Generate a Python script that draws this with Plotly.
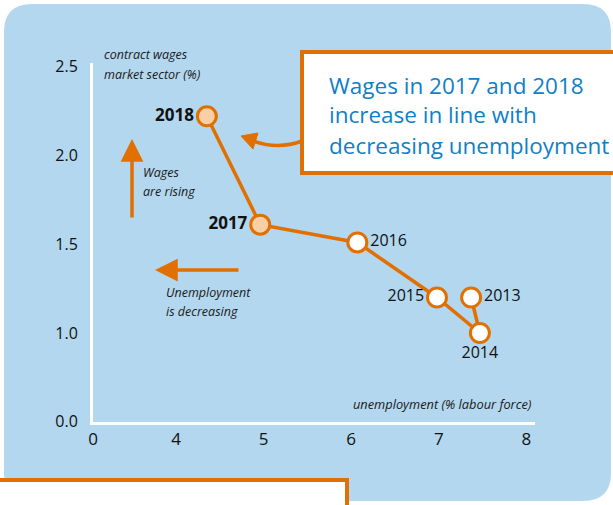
import plotly.graph_objects as go

# ---- data ----
years = ["2013", "2014", "2015", "2016", "2017", "2018"]
unemployment = [7.37, 7.47, 6.98, 6.07, 4.96, 4.35]
wages = [1.20, 1.00, 1.20, 1.51, 1.61, 2.22]
label_pos = ["middle right", "bottom center", "middle left", "middle right", "middle left", "middle left"]
highlight = [False, False, False, False, True, True]

x_tickvals = [3.05, 4, 5, 6, 7, 8]
x_ticktext = ["0", "4", "5", "6", "7", "8"]
y_tickvals = [0.5, 1.0, 1.5, 2.0, 2.5]
y_ticktext = ["0.0", "1.0", "1.5", "2.0", "2.5"]

W, H = 613, 505
ORANGE = "#E17000"
PEACH = "#F9CFA6"
BG = "#B3D7EE"
BLUE = "#0F7FC6"
FONT = "Open Sans"


def X(px):
    return px / W


def Y(py):
    return 1 - py / H


labels = [f"<b>{y}</b>" if h else y for y, h in zip(years, highlight)]
fill = [PEACH if h else "white" for h in highlight]
label_sizes = [17 if h else 16 for h in highlight]

fig = go.Figure()
fig.add_trace(go.Scatter(
    x=unemployment, y=wages, mode="lines+markers+text",
    text=labels, textposition=label_pos,
    textfont=dict(family=FONT, size=label_sizes, color="#111"),
    line=dict(color=ORANGE, width=3.5),
    marker=dict(size=19, color=fill, line=dict(color=ORANGE, width=3)),
    cliponaxis=False, hoverinfo="skip", showlegend=False,
))

# background rounded panel
L, T, R, B, r = 4, 4, 611, 501, 28
bg_path = (f"M {X(L)} {Y(T + r)} Q {X(L)} {Y(T)} {X(L + r)} {Y(T)} "
           f"L {X(R - r)} {Y(T)} Q {X(R)} {Y(T)} {X(R)} {Y(T + r)} "
           f"L {X(R)} {Y(B - r)} Q {X(R)} {Y(B)} {X(R - r)} {Y(B)} "
           f"L {X(L + r)} {Y(B)} Q {X(L)} {Y(B)} {X(L)} {Y(B - r)} Z")

shapes = [
    dict(type="path", path=bg_path, xref="paper", yref="paper",
         fillcolor=BG, line=dict(width=0), layer="below"),
    # callout box
    dict(type="rect", xref="paper", yref="paper", x0=X(302), y0=Y(173), x1=X(625), y1=Y(52),
         fillcolor="white", line=dict(color=ORANGE, width=4), layer="above"),
    # bottom box
    dict(type="rect", xref="paper", yref="paper", x0=X(-5), y0=Y(515), x1=X(347), y1=Y(480),
         fillcolor="white", line=dict(color=ORANGE, width=4), layer="above"),
    # curved arrow from callout
    dict(type="path", xref="paper", yref="paper",
         path=f"M {X(302)} {Y(141)} Q {X(278)} {Y(150)} {X(253)} {Y(141)}",
         line=dict(color=ORANGE, width=3.5), layer="above"),
    dict(type="path", xref="paper", yref="paper",
         path=f"M {X(241)} {Y(136)} L {X(258)} {Y(133)} L {X(253)} {Y(149)} Z",
         fillcolor=ORANGE, line=dict(color=ORANGE, width=1), layer="above"),
]

def txt(s, px, py, size=13, italic=True, color="#1a1a1a", xanchor="left"):
    return dict(text=s, x=X(px), y=Y(py), xref="paper", yref="paper",
                xanchor=xanchor, yanchor="middle", showarrow=False,
                font=dict(family=FONT, size=size, color=color,
                          style="italic" if italic else "normal"))

annotations = [
    txt("contract wages", 102, 55, 12.5),
    txt("market sector (%)", 102, 74, 12.5),
    txt("Wages", 141, 172, 12.5),
    txt("are rising", 141, 191, 12.5),
    txt("Unemployment", 164, 292, 12.5),
    txt("is decreasing", 164, 311, 12.5),
    txt("unemployment (% labour force)", 534, 404, 12.8, xanchor="right"),
    txt("Wages in 2017 and 2018", 327, 85, 22.5, italic=False, color=BLUE),
    txt("increase in line with", 327, 115, 22.5, italic=False, color=BLUE),
    txt("decreasing unemployment", 327, 145, 22.5, italic=False, color=BLUE),
    # straight arrows
    dict(x=X(132), y=Y(139), xref="paper", yref="paper", text="", showarrow=True,
         ax=0, ay=80, arrowhead=2, arrowsize=1.3, arrowwidth=3.5, arrowcolor=ORANGE),
    dict(x=X(155), y=Y(270), xref="paper", yref="paper", text="", showarrow=True,
         ax=85, ay=0, arrowhead=2, arrowsize=1.3, arrowwidth=3.5, arrowcolor=ORANGE),
]

fig.update_layout(
    width=W, height=H, margin=dict(l=0, r=0, t=0, b=0),
    paper_bgcolor="white", plot_bgcolor="rgba(0,0,0,0)",
    shapes=shapes, annotations=annotations,
    font=dict(family=FONT, color="#111"),
    xaxis=dict(domain=[X(93), X(535)], range=[3.049, 8.1], showgrid=False, zeroline=False,
               showline=True, linecolor="white", linewidth=3, automargin=False,
               tickvals=x_tickvals, ticktext=x_ticktext, ticks="",
               tickfont=dict(family=FONT, size=17, color="#111")),
    yaxis=dict(domain=[Y(422), Y(63)], range=[0.499, 2.52], showgrid=False, zeroline=False,
               showline=True, linecolor="white", linewidth=3, automargin=False,
               tickvals=y_tickvals, ticktext=y_ticktext, ticks="outside", ticklen=9,
               tickcolor="rgba(0,0,0,0)", tickfont=dict(family=FONT, size=16, color="#111")),
)

fig.write_html(
    "out.html",
    config={"displayModeBar": False},
    post_script="document.body.style.margin='0';document.body.style.overflow='hidden';",
)
